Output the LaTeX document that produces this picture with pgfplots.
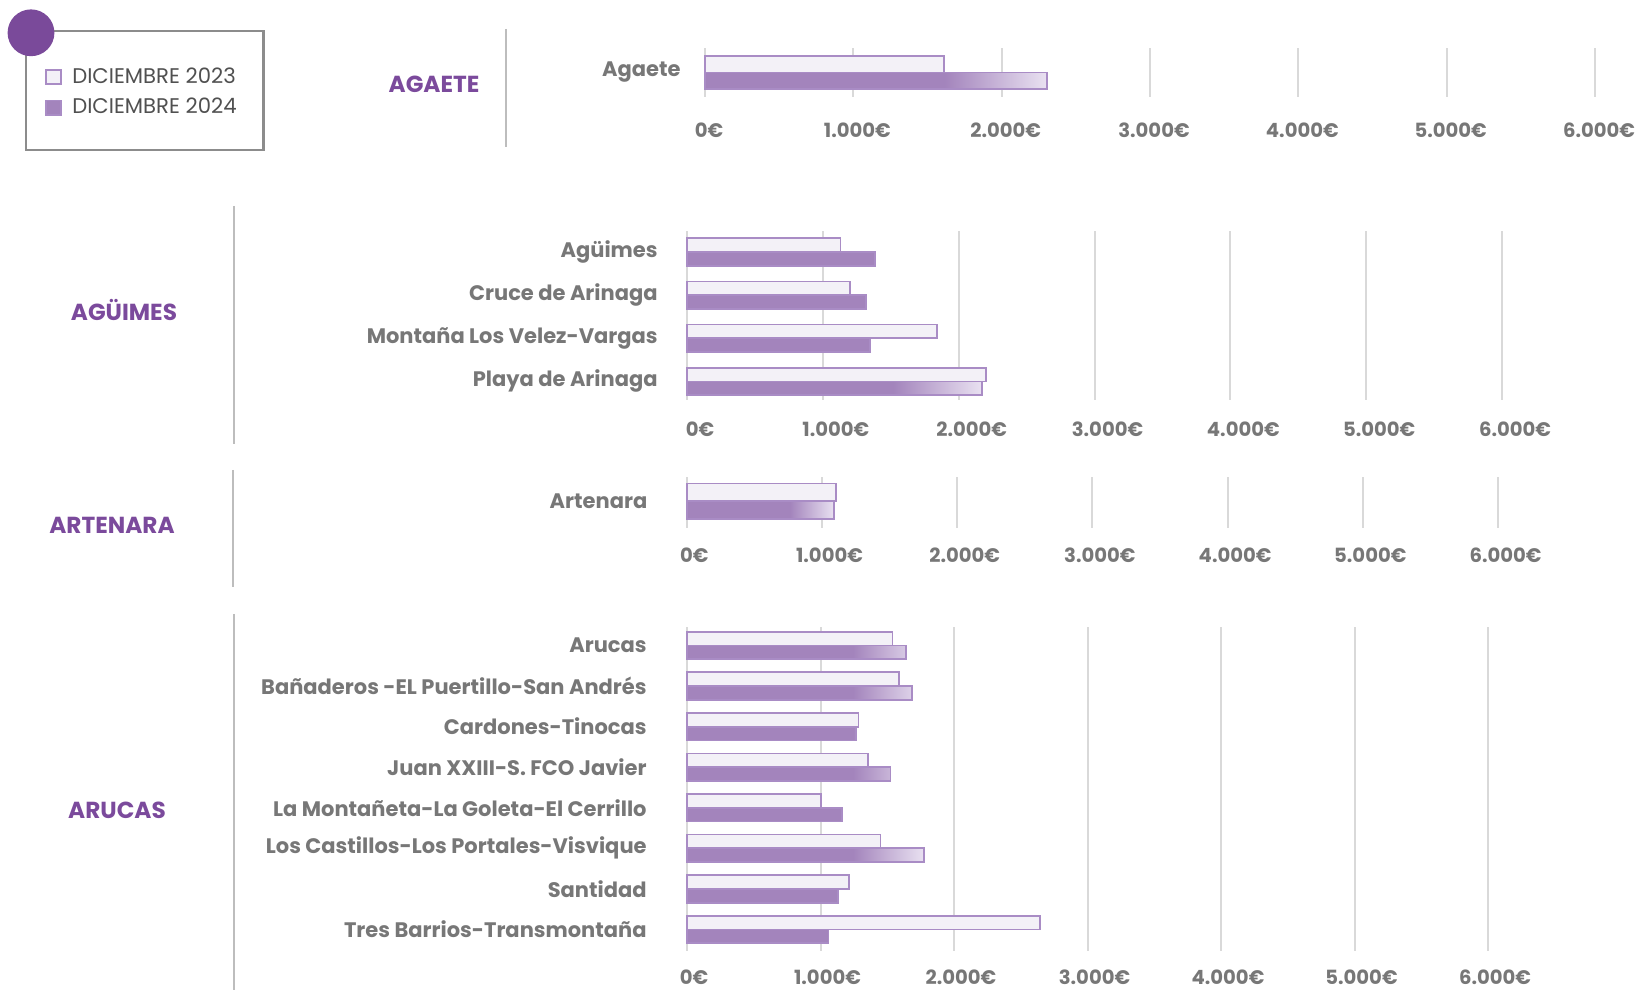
\documentclass[border=0pt]{standalone}
\usepackage{fontspec}
\setmainfont{Poppins}
\usepackage{pgfplots}
\pgfplotsset{compat=1.18}
\definecolor{labelgray}{HTML}{777777}
\definecolor{grpurple}{HTML}{7B4A9C}
\definecolor{circpurple}{HTML}{7A4A9A}
\definecolor{bar23}{HTML}{F3F1F7}
\definecolor{barline}{HTML}{A98CC5}
\definecolor{barB}{HTML}{A384BC}
\definecolor{barL}{HTML}{E9E1F1}
\definecolor{gridgray}{HTML}{D9D9D9}
\definecolor{sepgray}{HTML}{BDBDBD}
\definecolor{legbox}{HTML}{8C8C8C}
\definecolor{legtext}{HTML}{505050}
\pgfdeclarehorizontalshading{barfade}{100bp}{color(0bp)=(barB); color(25bp)=(barB); color(60bp)=(barB); color(75bp)=(barL); color(100bp)=(barL)}
\pgfplotsset{
  panel/.style={
    scale only axis, xbar, anchor=south west, clip=false,
    xmin=0, xmax=6000,
    xtick={0,1000,2000,3000,4000,5000,6000},
    xticklabels={0€,1.000€,2.000€,3.000€,4.000€,5.000€,6.000€},
    xmajorgrids, grid style={draw=gridgray, line width=1pt},
    axis x line=bottom, axis y line=left,
    axis line style={draw=none,-},
    major tick length=0pt, tick style={draw=none},
    xticklabel style={font=\bfseries\fontsize{9.8}{10}\selectfont, text=labelgray, anchor=center},
    yticklabel style={font=\bfseries\fontsize{10.5}{11}\selectfont, text=labelgray, anchor=east, inner sep=0pt},
  },
  b23/.style={fill=bar23, draw=barline, line width=0.9pt},
  b24/.style={shade, shading=barfade, draw=barline, line width=0.9pt},
}
\begin{document}
\begin{tikzpicture}
\path[use as bounding box] (0,0) rectangle (819pt,495pt);

% legend frame and dot
\draw[legbox, line width=1.2pt] (12.9pt,479.5pt) rectangle (131.7pt,420pt);
\fill[circpurple] (15.5pt,478.6pt) circle (11.7pt);

% separators
\draw[sepgray, line width=1pt] (252.75pt,480.5pt) -- (252.75pt,421.5pt);
\draw[sepgray, line width=1pt] (117pt,392pt) -- (117pt,273pt);
\draw[sepgray, line width=1pt] (116.4pt,260pt) -- (116.4pt,201.6pt);
\draw[sepgray, line width=1pt] (117pt,188pt) -- (117pt,0pt);

% group labels
\begin{scope}[every node/.style={font=\bfseries\fontsize{11.6}{12}\selectfont, text=grpurple}]
\node at (217pt,453pt) {AGAETE};
\node at (62pt,340pt) {AGÜIMES};
\node at (56pt,232.3pt) {ARTENARA};
\node at (58.5pt,89.7pt) {ARUCAS};
\end{scope}

% Panel 1: AGAETE
\begin{axis}[panel, at={(352.5pt,446.5pt)}, width=445pt, height=24.5pt,
  ymin=-0.5, ymax=0.5, ytick={0}, yticklabels={Agaete},
  bar width=8.25pt,
  xticklabel style={yshift=-16.5pt, xshift=2pt},
  yticklabel style={xshift=-12pt},
  legend style={at={(-0.7415,0.68)}, anchor=north west, draw=none, fill=none,
    font=\fontsize{10.6}{11}\selectfont, text=legtext, cells={anchor=west},
    nodes={text height=7.6pt, text depth=1.5pt},
    row sep=2.2pt, inner sep=0pt},
  legend image code/.code={\draw[#1] (0pt,-3.6pt) rectangle (7.2pt,3.6pt); \path (10.5pt,0pt);},
]
\addlegendimage{fill=bar23, draw=barline, line width=0.9pt}
\addlegendentry{DICIEMBRE 2023}
\addlegendimage{fill=barB, draw=barline, line width=0.9pt}
\addlegendentry{DICIEMBRE 2024}
\addplot[b23, bar shift=4.125pt, forget plot] coordinates {(1610,0)};
\addplot[b24, bar shift=-4.125pt, forget plot] coordinates {(2305,0)};
\end{axis}

% Panel 2: AGUIMES
\begin{axis}[panel, at={(343.5pt,295pt)}, width=407.5pt, height=84.5pt,
  ymin=-0.43, ymax=3.49, ytick={0,1,2,3},
  yticklabels={Playa de Arinaga, Montaña Los Velez-Vargas, Cruce de Arinaga, Agüimes},
  bar width=6.9pt,
  xticklabel style={yshift=-14.5pt, xshift=6.5pt},
  yticklabel style={xshift=-14.5pt},
]
\addplot[b23, bar shift=3.45pt] coordinates {(1130,3) (1200,2) (1840,1) (2200,0)};
\addplot[b24, bar shift=-3.45pt] coordinates {(1385,3) (1320,2) (1348,1) (2170,0)};
\end{axis}

% Panel 3: ARTENARA
\begin{axis}[panel, at={(343.35pt,231pt)}, width=405.6pt, height=25.5pt,
  ymin=-0.525, ymax=0.475, ytick={0}, yticklabels={Artenara},
  bar width=8.9pt,
  xticklabel style={yshift=-13.5pt, xshift=3.8pt},
  yticklabel style={xshift=-19.5pt},
]
\addplot[b23, bar shift=4.45pt] coordinates {(1107,0)};
\addplot[b24, bar shift=-4.45pt] coordinates {(1090,0)};
\end{axis}

% Panel 4: ARUCAS
\begin{axis}[panel, at={(343.5pt,19.5pt)}, width=400.5pt, height=162pt,
  ymin=-0.53, ymax=7.456, ytick={0,1,2,3,4,5,6,7},
  yticklabels={Tres Barrios-Transmontaña, Santidad, Los Castillos-Los Portales-Visvique, La Montañeta-La Goleta-El Cerrillo, Juan XXIII-S. FCO Javier, Cardones-Tinocas, Bañaderos -EL Puertillo-San Andrés, Arucas},
  bar width=6.9pt,
  xticklabel style={yshift=-13.3pt, xshift=3.5pt},
  yticklabel style={xshift=-20pt},
]
\addplot[b23, bar shift=3.45pt] coordinates {(1540,7) (1590,6) (1285,5) (1355,4) (1005,3) (1450,2) (1215,1) (2645,0)};
\addplot[b24, bar shift=-3.45pt] coordinates {(1640,7) (1685,6) (1265,5) (1525,4) (1160,3) (1775,2) (1130,1) (1060,0)};
\end{axis}
\end{tikzpicture}
\end{document}
